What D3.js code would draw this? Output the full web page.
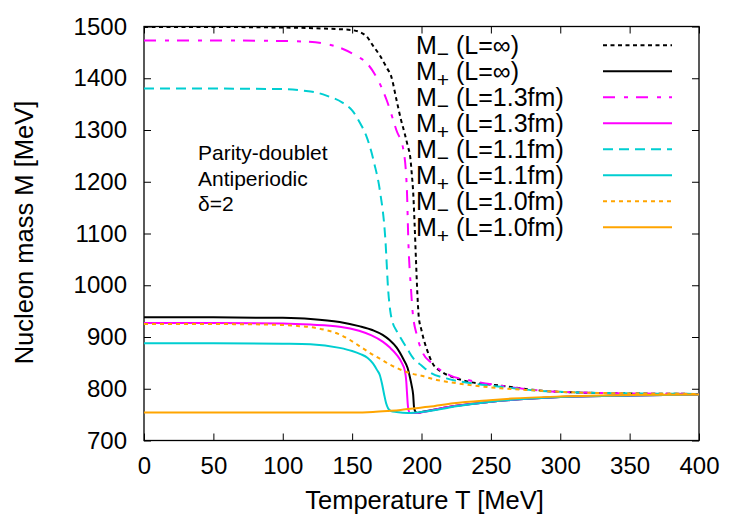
<!DOCTYPE html>
<html>
<head>
<meta charset="utf-8">
<script src="https://cdn.jsdelivr.net/npm/d3@7"></script>
<style>
  html, body { margin: 0; padding: 0; background: #fff; }
  svg { display: block; font-family: "Liberation Sans", Arial, Helvetica, sans-serif; }
</style>
</head>
<body>
<svg id="chart" width="750" height="525"></svg>
<script>
// ---------- data ----------
const xTickValues = [0, 50, 100, 150, 200, 250, 300, 350, 400];
const yTickValues = [700, 800, 900, 1000, 1100, 1200, 1300, 1400, 1500];

// M− (L=∞)
const tMmInf = [0,50,100,130,150,160,165,170,175,178,182,185,188,190,192,193,194,195,196,197,198,200,204,208,215,223,235,257,280,300,350,400];
const mMmInf = [1499,1499,1498,1496,1493,1482,1463,1444,1420,1405,1358,1322,1292,1270,1245,1215,1180,1120,1050,985,940,913,875,849,832,822,813,806,798,794,791,790];
// M+ (L=∞)
const tMpInf = [0,50,100,120,141,155,165,172,177,182,187,190,191.5,193,194,194.6,195.5,197,200,210,225,250,300,350,400];
const mMpInf = [938,938,937,935,929,921,913,904,894,880,857,840,824,805,788,765,756,753,755,760,767,775,784,787,789];
// M− (L=1.3fm)
const tMm13 = [0,50,100,115,130,143,152,161,168,175,182,187,189.5,190.5,192.5,193.5,197,201,207.6,220.5,235,257,280,300,350,400];
const mMm13 = [1473,1473,1472,1471,1467,1457,1445,1428,1400,1357,1299,1261,1183,1087,990,952,900,869,849,826,816,806,798,794,791,790];
// M+ (L=1.3fm)
const tMp13 = [0,50,100,120,141,155,164,172,177,182,186,188,189,189.6,190.1,190.7,192,197,203,210,225,250,300,350,400];
const mMp13 = [927,927,926,924,920,912,903,891,880,866,849,835,815,790,770,758,753,753,756,760,767,775,784,787,789];
// M− (L=1.1fm)
const tMm11 = [0,50,100,115,125,132,143,150,156,160,163,166,170,174,176,177.5,179,182,185,190,194,200,206,218,235,257,280,300,350,400];
const mMm11 = [1380,1380,1379,1376,1372,1366,1353,1338,1312,1290,1266,1235,1183,1087,990,950,930,912,898,876,859,845,832,820,811,804,797,794,791,790];
// M+ (L=1.1fm)
const tMp11 = [0,50,100,120,141,150,156,161,165,168,170,171.5,173,174.5,176,178,182,190,200,210,225,250,300,350,400];
const mMp11 = [888,888,887,886,879,873,867,860,849,836,826,810,790,772,762,757,755,753,755,759,766,775,784,787,789];
// M− (L=1.0fm)
const tMm10 = [0,50,90,112,120,130,140,148,155,163,170,177,184,192,200,211,222,235,257,280,300,350,400];
const mMm10 = [925,925,924,921,919,914,906,895,883,869,858,847,838,830,825,817,812,807,801,797,794,791,790];
// M+ (L=1.0fm)
const tMp10 = [0,50,100,150,165,176,185,194,205,223,249,265,300,350,400];
const mMp10 = [754,754,754,754,755,757,759,762,765,772,778,781,785,788,789];

const seriesLabels = ["(L=∞)", "(L=∞)", "(L=1.3fm)", "(L=1.3fm)", "(L=1.1fm)", "(L=1.1fm)", "(L=1.0fm)", "(L=1.0fm)"];
const seriesSigns  = ["−", "+", "−", "+", "−", "+", "−", "+"];

const annotationLines = ["Parity-doublet", "Antiperiodic", "δ=2"];

// ---------- styles ----------
const styles = [
  { color: "#000000", dash: "4,3.5" },
  { color: "#000000", dash: null },
  { color: "#ff00ff", dash: "12,9,4,8" },
  { color: "#ff00ff", dash: null },
  { color: "#00ced1", dash: "10,6" },
  { color: "#00ced1", dash: null },
  { color: "#ffa500", dash: "4,4" },
  { color: "#ffa500", dash: null }
];

const seriesData = [
  [tMmInf, mMmInf], [tMpInf, mMpInf],
  [tMm13, mMm13], [tMp13, mMp13],
  [tMm11, mMm11], [tMp11, mMp11],
  [tMm10, mMm10], [tMp10, mMp10]
];

// ---------- layout ----------
const svg = d3.select("#chart");
const L = 144, R = 699, T = 26.5, B = 440.5;

const x = d3.scaleLinear().domain([0, 400]).range([L, R]);
const y = d3.scaleLinear().domain([700, 1500]).range([B, T]);

svg.append("defs").append("clipPath").attr("id", "clip")
  .append("rect").attr("x", L).attr("y", T).attr("width", R - L).attr("height", B - T);

const fontSize = 24;
const titleSize = 25.5;

// axes (inward ticks, mirrored)
const axBottom = svg.append("g").attr("transform", `translate(0,${B})`)
  .call(d3.axisBottom(x).tickValues(xTickValues).tickSize(-7).tickPadding(16).tickFormat(d3.format("d")));
const axTop = svg.append("g").attr("transform", `translate(0,${T})`)
  .call(d3.axisTop(x).tickValues(xTickValues).tickSize(-7).tickFormat(""));
const axLeft = svg.append("g").attr("transform", `translate(${L},0)`)
  .call(d3.axisLeft(y).tickValues(yTickValues).tickSize(-7).tickPadding(17).tickFormat(d3.format("d")));
const axRight = svg.append("g").attr("transform", `translate(${R},0)`)
  .call(d3.axisRight(y).tickValues(yTickValues).tickSize(-7).tickFormat(""));

[axBottom, axTop, axLeft, axRight].forEach(g => {
  g.select(".domain").remove();
  g.selectAll(".tick line").attr("stroke", "#000").attr("stroke-width", 1);
  g.selectAll(".tick text").attr("font-size", fontSize).attr("fill", "#000")
    .attr("font-family", "Liberation Sans, Arial, sans-serif");
});

// frame
svg.append("rect").attr("x", L).attr("y", T).attr("width", R - L).attr("height", B - T)
  .attr("fill", "none").attr("stroke", "#000").attr("stroke-width", 1.3);

// axis titles
svg.append("text")
  .attr("x", (L + R) / 2 + 3).attr("y", 509)
  .attr("text-anchor", "middle").attr("font-size", titleSize)
  .text("Temperature T [MeV]");
svg.append("text")
  .attr("transform", `translate(33,${(T + B) / 2 - 1}) rotate(-90)`)
  .attr("text-anchor", "middle").attr("font-size", titleSize)
  .text("Nucleon mass M [MeV]");

// curves
const line = d3.line().x(d => x(d[0])).y(d => y(d[1])).curve(d3.curveMonotoneX);
const plot = svg.append("g").attr("clip-path", "url(#clip)");
seriesData.forEach((s, i) => {
  const pts = s[0].map((t, k) => [t, s[1][k]]);
  plot.append("path").datum(pts)
    .attr("d", line)
    .attr("fill", "none")
    .attr("stroke", styles[i].color)
    .attr("stroke-width", 2)
    .attr("stroke-dasharray", styles[i].dash);
});

// annotation
annotationLines.forEach((t, i) => {
  svg.append("text").attr("x", 198).attr("y", 160 + i * 25.7)
    .attr("font-size", 21).text(t);
});

// legend
const legY0 = 45.3, legDy = 26;
seriesLabels.forEach((lab, i) => {
  const cy = legY0 + i * legDy;
  const txt = svg.append("text").attr("x", 416).attr("y", cy + 8.5).attr("font-size", 25);
  txt.append("tspan").text("M");
  txt.append("tspan").attr("dy", 7).attr("font-size", 21).text(seriesSigns[i]);
  txt.append("tspan").attr("dy", -7).attr("font-size", 25).text("\u00a0" + lab);
  svg.append("line")
    .attr("x1", 603).attr("x2", 672).attr("y1", cy).attr("y2", cy)
    .attr("stroke", styles[i].color).attr("stroke-width", 2)
    .attr("stroke-dasharray", styles[i].dash);
});
</script>
</body>
</html>
